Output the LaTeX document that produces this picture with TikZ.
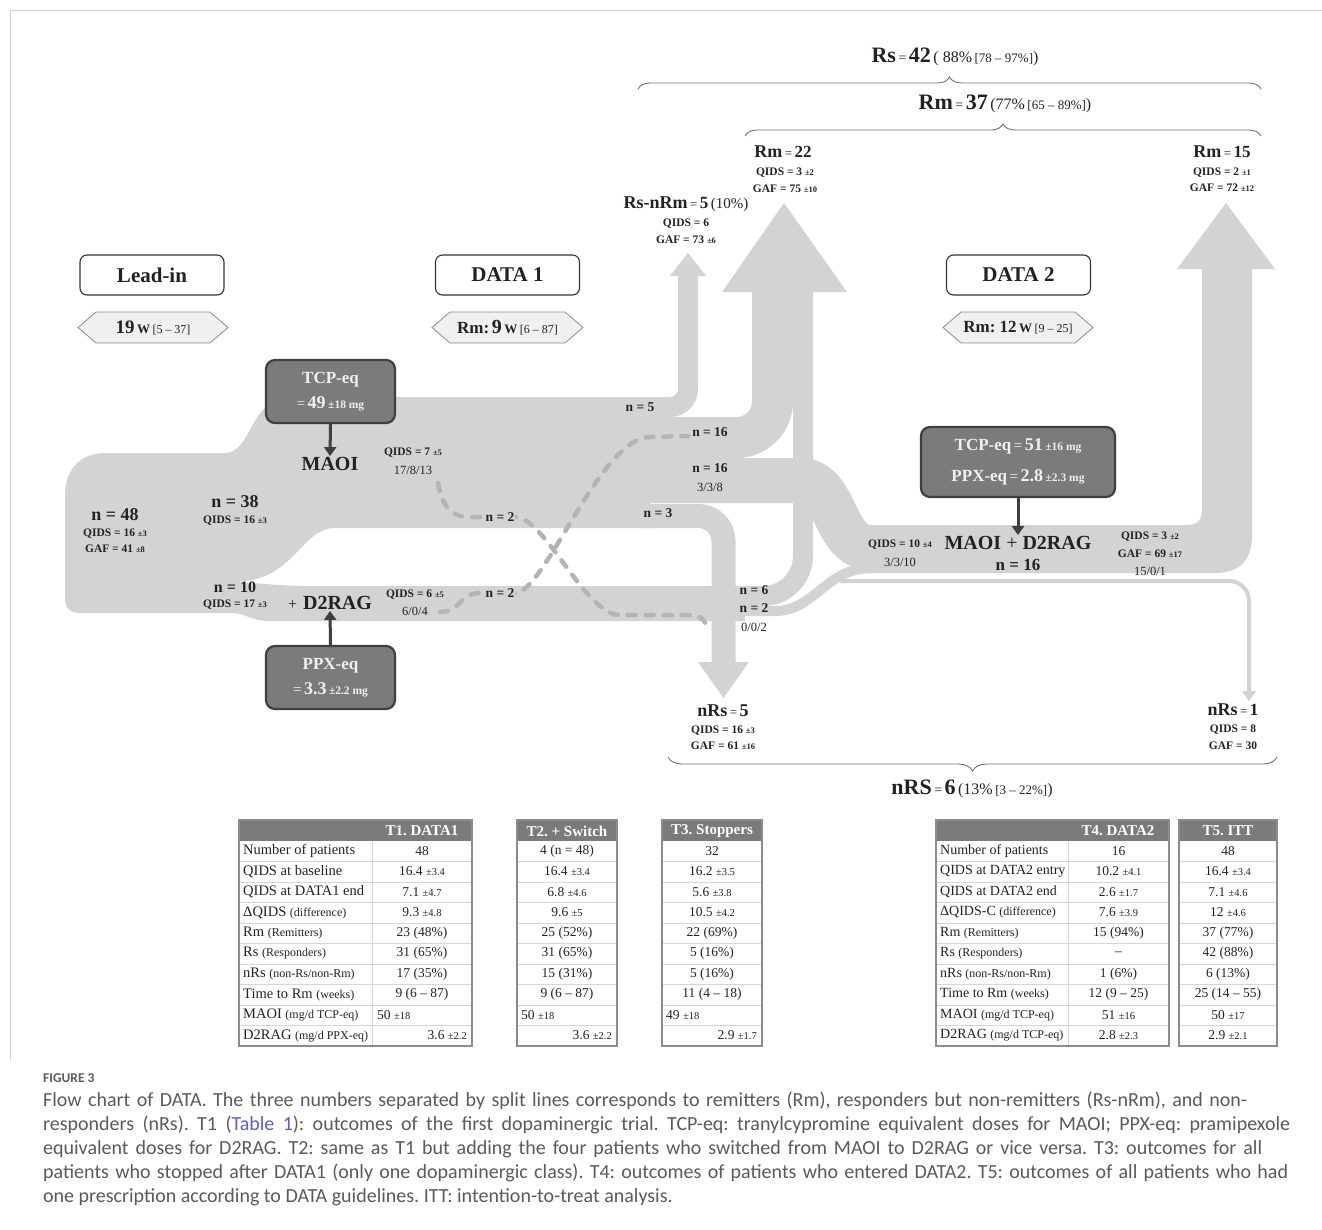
\documentclass[tikz,border=0pt]{standalone}
\usepackage{fontspec}
\setmainfont{Liberation Serif}
\newfontfamily\capfont{Carlito}
\usetikzlibrary{decorations.pathreplacing,arrows.meta}
\definecolor{band}{HTML}{D3D3D3}
\definecolor{dashc}{HTML}{B4B4B4}
\definecolor{boxdark}{HTML}{7B7B7B}
\definecolor{boxedge}{HTML}{3F3F3F}
\definecolor{hexfill}{HTML}{F0F0F0}
\definecolor{capgray}{HTML}{5A5A5A}
\definecolor{linkblue}{HTML}{5B5BD6}
\definecolor{tabedge}{HTML}{8C8C8C}
\definecolor{tabsep}{HTML}{D6D6D6}
\definecolor{ink}{HTML}{222222}
\newcommand{\fsz}[1]{\fontsize{#1}{#1}\selectfont}
\newcommand{\pmx}[1]{{\fsz{8.5}±#1}}
\newcommand{\pmt}[1]{{\fsz{10.5}±#1}}
\frenchspacing
\tikzset{
  lab/.style={inner sep=1pt, text=ink, align=center},
  flowlab/.style={lab, font=\bfseries\fsz{13.5}},
  stat/.style={lab, font=\bfseries\fsz{11.5}},
  ratio/.style={lab, font=\fsz{12.5}},
  phase/.style={draw=black!80, line width=1.1pt, rounded corners=7pt, minimum width=144pt, minimum height=40pt, font=\bfseries\fsz{21}, fill=white, text=ink},
  darkbox/.style={fill=boxdark, draw=boxedge, line width=2.2pt, rounded corners=9pt, text=white!94!black, align=center, inner sep=2pt},
  hexshape/.style={fill=hexfill, draw=black!45, line width=0.8pt},
  arr/.style={draw=boxedge, line width=3pt, -{Triangle[length=9pt,width=12pt]}},
  dashl/.style={draw=dashc, line width=4.5pt, dash pattern=on 8pt off 10pt, line cap=round},
  bracel/.style={draw=black!55, line width=0.9pt, decorate},
  tlab/.style={anchor=west, inner sep=0pt, font=\fsz{14.5}, text=ink},
  tlabb/.style={anchor=west, inner sep=0pt, font=\fsz{14}, text=ink},
  tval/.style={inner sep=0pt, font=\fsz{13.5}, text=ink},
  thead/.style={inner sep=0pt, font=\bfseries\fsz{15}, text=white},
  tsep/.style={draw=tabsep, line width=0.8pt},
  tframe/.style={draw=tabedge, line width=1.5pt},
  capline/.style={anchor=west, inner sep=0pt, text=capgray, font=\capfont\fsz{20}}
}
\begin{document}
\begin{tikzpicture}[x=1pt,y=-1pt]
\useasboundingbox (0,0) rectangle (1322,1229);
\draw[black!18, line width=1pt] (10,1060) -- (10,10) -- (1322,10);

% ---------- flow bands ----------
\fill[band] (65,495) .. controls (65,470) and (80,453) .. (105,453) -- (225,453) .. controls (252,453) and (250,397) .. (290,397) -- (650,397) -- (650,528) -- (335,528) .. controls (300,528) and (295,582) .. (233,582) -- (233,613) -- (80,613) .. controls (70,613) and (65,608) .. (65,598) -- cycle;
\fill[band] (233,582) .. controls (260,583) and (280,586) .. (310,586) -- (745,586) -- (745,621) -- (270,621) .. controls (250,621) and (245,613) .. (233,613) -- cycle;
\draw[band, line width=20pt, rounded corners=18pt] (640,407) -- (688,407) -- (688,275);
\fill[band] (670,276) -- (688,253) -- (706,276) -- cycle;
\draw[band, line width=41pt, rounded corners=36pt] (640,437.5) -- (772.5,437.5) -- (772.5,291);
\draw[band, line width=20pt, rounded corners=40pt] (735,596) -- (803,596) -- (803,291);
\fill[band] (722,292) -- (784,203) -- (847,292) -- cycle;
\draw[band, line width=45pt] (640,480.5) -- (800,480.5) .. controls (838,480.5) and (832,548) .. (872,548);
\draw[band, line width=10pt] (735,611) -- (775,611) .. controls (815,611) and (825,568) .. (872,568);
\draw[band, line width=24pt, rounded corners=25pt] (640,516) -- (723.5,516) -- (723.5,663);
\fill[band] (698,662) -- (749,662) -- (723.5,698) -- cycle;
\fill[band] (860,525) -- (1187,525) .. controls (1197,525) and (1202,520) .. (1202,510) -- (1202,269) -- (1177,269) -- (1226,203) -- (1275,269) -- (1252,269) -- (1252,535) .. controls (1252,560) and (1240,573) .. (1215,573) -- (860,573) -- cycle;
\draw[band, line width=4pt, rounded corners=20pt] (840,581) -- (1249,581) -- (1249,693);
\fill[band] (1242,691) -- (1256,691) -- (1249,701) -- cycle;

% ---------- dashed switch lines ----------
\draw[dashl] (438,483) .. controls (442,505) and (450,517) .. (470,517) -- (515,517) .. controls (545,517) and (585,615) .. (620,615) -- (688,615) .. controls (700,615) and (707,620) .. (708,632);
\draw[dashl] (440,612) .. controls (460,612) and (460,593) .. (480,593) -- (515,593) .. controls (545,593) and (600,437) .. (650,437) -- (688,436);

% ---------- braces ----------
\draw[bracel, decoration={brace, amplitude=12pt}] (638,89) -- (1261,89);
\draw[bracel, decoration={brace, amplitude=12pt}] (745,136) -- (1261,136);
\draw[bracel, decoration={brace, amplitude=14pt}] (1277,757) -- (668,757);

% ---------- top labels ----------
\node[lab] (rs) at (955,57) {{\bfseries\fsz{22}Rs} {\fsz{14}=} {\bfseries\fsz{22}42} {\fsz{16}( 88\%} {\fsz{13}[78 – 97\%]}{\fsz{16})}};
\node[lab] (rm37) at (1005,104) {{\bfseries\fsz{22}Rm} {\fsz{14}=} {\bfseries\fsz{22}37} {\fsz{16}(77\%} {\fsz{13}[65 – 89\%]}{\fsz{16})}};
\node[lab] (rm22) at (783,152) {{\bfseries\fsz{18}Rm} {\fsz{13}=} {\bfseries\fsz{17}22}};
\node[stat] (rm22q) at (785,173) {QIDS = 3 \pmx{2}};
\node[stat] (rm22g) at (785,189) {GAF = 75 \pmx{10}};
\node[lab] (rm15) at (1222,152) {{\bfseries\fsz{18}Rm} {\fsz{13}=} {\bfseries\fsz{17}15}};
\node[stat] (rm15q) at (1222,173) {QIDS = 2 \pmx{1}};
\node[stat] (rm15g) at (1222,188) {GAF = 72 \pmx{12}};
\node[lab] (rsn) at (686,204) {{\bfseries\fsz{18}Rs-nRm} {\fsz{13}=} {\bfseries\fsz{17}5} {\fsz{15}(10\%)}};
\node[stat] (rsnq) at (686,224) {QIDS = 6};
\node[stat] (rsng) at (686,240) {GAF = 73 \pmx{6}};

% ---------- phase boxes ----------
\node[phase] (leadin) at (152,275) {Lead-in};
\node[phase] (data1) at (507.5,275) {DATA 1};
\node[phase] (data2) at (1018.5,275) {DATA 2};
\filldraw[hexshape] (78,327.5) -- (96,312) -- (210,312) -- (228,327.5) -- (210,343) -- (96,343) -- cycle;
\node[lab] (hex0) at (153,328) {{\bfseries\fsz{19}19} {\bfseries\fsz{13}W} {\fsz{12}[5 – 37]}};
\filldraw[hexshape] (432,327.5) -- (450,312) -- (565,312) -- (583,327.5) -- (565,343) -- (450,343) -- cycle;
\node[lab] (hex1) at (507.5,328) {{\bfseries\fsz{17}Rm:} {\bfseries\fsz{20}9} {\bfseries\fsz{13}W} {\fsz{12}[6 – 87]}};
\filldraw[hexshape] (943,327.5) -- (961,312) -- (1075,312) -- (1093,327.5) -- (1075,343) -- (961,343) -- cycle;
\node[lab] (hex2) at (1018,328) {{\bfseries\fsz{17}Rm: 12} {\bfseries\fsz{13}W} {\fsz{12}[9 – 25]}};

% ---------- dose boxes and treatment labels ----------
\node[darkbox, minimum width=129pt, minimum height=63pt] (tcp) at (330.5,391.5) {{\bfseries\fsz{17}TCP-eq}\\[9pt]{\fsz{15}=} {\bfseries\fsz{18}49} {\bfseries\fsz{11.5}±18 mg}};
\node[darkbox, minimum width=129pt, minimum height=63pt] (ppx) at (330.5,677.5) {{\bfseries\fsz{17}PPX-eq}\\[9pt]{\fsz{15}=} {\bfseries\fsz{18}3.3} {\bfseries\fsz{11.5}±2.2 mg}};
\node[darkbox, minimum width=194pt, minimum height=70pt] (tp2) at (1018,462) {{\bfseries\fsz{17}TCP-eq} {\fsz{15}=} {\bfseries\fsz{18}51} {\bfseries\fsz{11.5}±16 mg}\\[15pt]{\bfseries\fsz{17}PPX-eq} {\fsz{15}=} {\bfseries\fsz{18}2.8} {\bfseries\fsz{11.5}±2.3 mg}};
\node[lab, font=\bfseries\fsz{20}] (maoi) at (330,464) {MAOI};
\node[lab] (d2rag) at (330,603) {{\fsz{16}+}\hspace{6pt}{\bfseries\fsz{20}D2RAG}};
\node[lab, font=\bfseries\fsz{20}] (md) at (1018,543) {MAOI {\mdseries +} D2RAG};
\node[lab, font=\bfseries\fsz{17}] (n16c) at (1018,565) {n = 16};
\draw[arr] (tcp.south) -- (maoi.north);
\draw[arr] (ppx.north) -- (d2rag.south);
\draw[arr] (tp2.south) -- (md.north);

% ---------- left labels ----------
\node[lab, font=\bfseries\fsz{18}] (n48) at (115,515) {n = 48};
\node[stat] (n48q) at (115,534) {QIDS = 16 \pmx{3}};
\node[stat] (n48g) at (115,549) {GAF = 41 \pmx{8}};
\node[lab, font=\bfseries\fsz{18}] (n38) at (235,502) {n = 38};
\node[stat] (n38q) at (235,521) {QIDS = 16 \pmx{3}};
\node[lab, font=\bfseries\fsz{16}] (n10) at (235,587) {n = 10};
\node[stat] (n10q) at (235,605) {QIDS = 17 \pmx{3}};
\node[stat] (q7) at (413,453) {QIDS = 7 \pmx{5}};
\node[ratio] (r17) at (413,470) {17/8/13};
\node[stat] (q6) at (415,595) {QIDS = 6 \pmx{5}};
\node[ratio] (r6) at (415,611) {6/0/4};

% ---------- flow labels ----------
\node[flowlab] (n5) at (640,407) {n = 5};
\node[flowlab, fill=band] (n16a) at (710,432) {n = 16};
\node[flowlab] (n16b) at (710,468) {n = 16};
\node[ratio] (r338) at (710,487) {3/3/8};
\node[flowlab] (n3) at (658,513) {n = 3};
\node[flowlab, fill=band] (n2a) at (500,517) {n = 2};
\node[flowlab, fill=band] (n2b) at (500,593) {n = 2};
\node[flowlab] (n6) at (754,590) {n = 6};
\node[flowlab] (n2c) at (754,608) {n = 2};
\node[ratio] (r002) at (754,627) {0/0/2};
\node[stat] (q10) at (900,545) {QIDS = 10 \pmx{4}};
\node[ratio] (r3310) at (900,562) {3/3/10};
\node[stat] (q3) at (1150,537) {QIDS = 3 \pmx{2}};
\node[stat] (g69) at (1150,554) {GAF = 69 \pmx{17}};
\node[ratio] (r1501) at (1150,571) {15/0/1};

% ---------- bottom outcomes ----------
\node[lab] (nrs5) at (723,711) {{\bfseries\fsz{18}nRs} {\fsz{13}=} {\bfseries\fsz{18}5}};
\node[stat] (nrs5q) at (723,731) {QIDS = 16 \pmx{3}};
\node[stat] (nrs5g) at (723,746) {GAF = 61 \pmx{16}};
\node[lab] (nrs1) at (1233,710) {{\bfseries\fsz{18}nRs} {\fsz{13}=} {\bfseries\fsz{17}1}};
\node[stat] (nrs1q) at (1233,730) {QIDS = 8};
\node[stat] (nrs1g) at (1233,746) {GAF = 30};
\node[lab] (nrs6) at (972,789) {{\bfseries\fsz{22}nRS} {\fsz{14}=} {\bfseries\fsz{22}6} {\fsz{16}(13\%} {\fsz{13}[3 – 22\%]}{\fsz{16})}};

% ---------- table T1 ----------
\fill[boxdark] (239,820) rectangle (472,841);
\foreach \k in {1,...,9} \draw[tsep] (239,{841+20.5*\k}) -- (472,{841+20.5*\k});
\draw[tsep] (372,841) -- (372,1046);
\draw[tframe] (239,820) rectangle (472,1046);
\node[thead] (t1h) at (422,831) {T1. DATA1};
\foreach \t [count=\i] in {Number of patients, QIDS at baseline, QIDS at DATA1 end, {ΔQIDS {\fsz{12}(difference)}}, {Rm {\fsz{12}(Remitters)}}, {Rs {\fsz{12}(Responders)}}, {nRs {\fsz{12}(non-Rs/non-Rm)}}, {Time to Rm {\fsz{12}(weeks)}}, {MAOI {\fsz{12}(mg/d TCP-eq)}}, {D2RAG {\fsz{12}(mg/d PPX-eq)}}}
  \node[tlab] (t1l\i) at (243,{851+20.5*(\i-1)}) {\t};
\foreach \t [count=\i] in {48, {16.4 \pmt{3.4}}, {7.1 \pmt{4.7}}, {9.3 \pmt{4.8}}, {23 (48\%)}, {31 (65\%)}, {17 (35\%)}, {9 (6 – 87)}}
  \node[tval] (t1v\i) at (422,{851+20.5*(\i-1)}) {\t};
\node[tval, anchor=west] (t1v9) at (377,1015) {50 \pmt{18}};
\node[tval, anchor=east] (t1v10) at (467,1035.5) {3.6 \pmt{2.2}};

% ---------- table T2 ----------
\fill[boxdark] (517,820) rectangle (617,841);
\foreach \k in {1,...,9} \draw[tsep] (517,{841+20.5*\k}) -- (617,{841+20.5*\k});
\draw[tframe] (517,820) rectangle (617,1046);
\node[thead] (t2h) at (567,831) {T2. + Switch};
\foreach \t [count=\i] in {{4 (n = 48)}, {16.4 \pmt{3.4}}, {6.8 \pmt{4.6}}, {9.6 \pmt{5}}, {25 (52\%)}, {31 (65\%)}, {15 (31\%)}, {9 (6 – 87)}}
  \node[tval] (t2v\i) at (567,{851+20.5*(\i-1)}) {\t};
\node[tval, anchor=west] (t2v9) at (521,1015) {50 \pmt{18}};
\node[tval, anchor=east] (t2v10) at (612,1035.5) {3.6 \pmt{2.2}};

% ---------- table T3 ----------
\fill[boxdark] (662,820) rectangle (762,841);
\foreach \k in {1,...,9} \draw[tsep] (662,{841+20.5*\k}) -- (762,{841+20.5*\k});
\draw[tframe] (662,820) rectangle (762,1046);
\node[thead] (t3h) at (712,831) {T3. Stoppers};
\foreach \t [count=\i] in {32, {16.2 \pmt{3.5}}, {5.6 \pmt{3.8}}, {10.5 \pmt{4.2}}, {22 (69\%)}, {5 (16\%)}, {5 (16\%)}, {11 (4 – 18)}}
  \node[tval] (t3v\i) at (712,{851+20.5*(\i-1)}) {\t};
\node[tval, anchor=west] (t3v9) at (666,1015) {49 \pmt{18}};
\node[tval, anchor=east] (t3v10) at (757,1035.5) {2.9 \pmt{1.7}};

% ---------- table T4 ----------
\fill[boxdark] (936,820) rectangle (1169,841);
\foreach \k in {1,...,9} \draw[tsep] (936,{841+20.5*\k}) -- (1169,{841+20.5*\k});
\draw[tsep] (1068,841) -- (1068,1046);
\draw[tframe] (936,820) rectangle (1169,1046);
\node[thead] (t4h) at (1118,831) {T4. DATA2};
\foreach \t [count=\i] in {Number of patients, QIDS at DATA2 entry, QIDS at DATA2 end, {ΔQIDS-C {\fsz{12}(difference)}}, {Rm {\fsz{12}(Remitters)}}, {Rs {\fsz{12}(Responders)}}, {nRs {\fsz{12}(non-Rs/non-Rm)}}, {Time to Rm {\fsz{12}(weeks)}}, {MAOI {\fsz{12}(mg/d TCP-eq)}}, {D2RAG {\fsz{12}(mg/d TCP-eq)}}}
  \node[tlabb] (t4l\i) at (940,{851+20.5*(\i-1)}) {\t};
\foreach \t [count=\i] in {16, {10.2 \pmt{4.1}}, {2.6 \pmt{1.7}}, {7.6 \pmt{3.9}}, {15 (94\%)}, {–}, {1 (6\%)}, {12 (9 – 25)}, {51 \pmt{16}}, {2.8 \pmt{2.3}}}
  \node[tval] (t4v\i) at (1118.5,{851+20.5*(\i-1)}) {\t};

% ---------- table T5 ----------
\fill[boxdark] (1179,820) rectangle (1277,841);
\foreach \k in {1,...,9} \draw[tsep] (1179,{841+20.5*\k}) -- (1277,{841+20.5*\k});
\draw[tframe] (1179,820) rectangle (1277,1046);
\node[thead] (t5h) at (1228,831) {T5. ITT};
\foreach \t [count=\i] in {48, {16.4 \pmt{3.4}}, {7.1 \pmt{4.6}}, {12 \pmt{4.6}}, {37 (77\%)}, {42 (88\%)}, {6 (13\%)}, {25 (14 – 55)}, {50 \pmt{17}}, {2.9 \pmt{2.1}}}
  \node[tval] (t5v\i) at (1228,{851+20.5*(\i-1)}) {\t};

% ---------- caption ----------
\node[anchor=west, inner sep=0pt, text=capgray, font=\capfont\bfseries\fsz{13.5}] (figlab) at (43,1078) {FIGURE 3};
\node[capline] (cap1) at (43,1101) {\makebox[1204pt][s]{Flow chart of DATA. The three numbers separated by split lines corresponds to remitters (Rm), responders but non-remitters (Rs-nRm), and non-}};
\node[capline] (cap2) at (43,1125) {\makebox[1247pt][s]{responders (nRs). T1 (\textcolor{linkblue}{Table 1}): outcomes of the first dopaminergic trial. TCP-eq: tranylcypromine equivalent doses for MAOI; PPX-eq: pramipexole}};
\node[capline] (cap3) at (43,1149) {\makebox[1219pt][s]{equivalent doses for D2RAG. T2: same as T1 but adding the four patients who switched from MAOI to D2RAG or vice versa. T3: outcomes for all}};
\node[capline] (cap4) at (43,1173) {\makebox[1245pt][s]{patients who stopped after DATA1 (only one dopaminergic class). T4: outcomes of patients who entered DATA2. T5: outcomes of all patients who had}};
\node[capline] (cap5) at (43,1197) {one prescription according to DATA guidelines. ITT: intention-to-treat analysis.};
\end{tikzpicture}
\end{document}
